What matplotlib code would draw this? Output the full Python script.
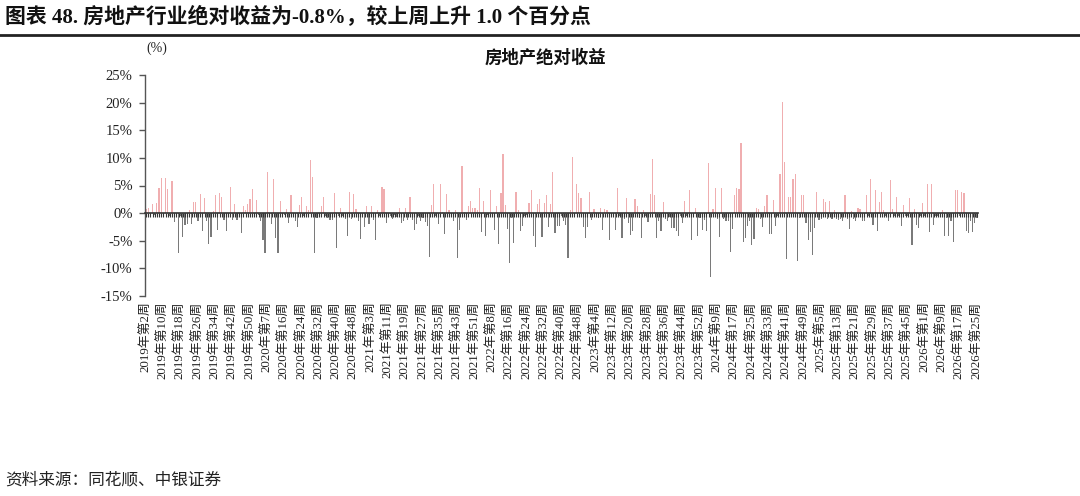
import numpy as np
import matplotlib
matplotlib.use('Agg')
import matplotlib.pyplot as plt
from matplotlib.lines import Line2D

# weekly absolute return of the real-estate sector (%), 2019 W2 .. 2026 W25
values = [
    0.8, 0.9, -0.3, 1.7, -0.4, 1.9, 4.5, 6.4, -0.5, 6.4,        # 0
    4.4, -0.5, 5.8, -1.6, -0.6, -7.2, -0.5, -4.4, -2.2, -2.0,   # 10
    0.5, -1.9, 2.0, 2.1, -1.4, 3.4, -3.3, 2.8, -1.5, -5.5,      # 20
    -4.4, 0.3, 3.2, -3.0, 3.6, 3.0, -1.3, -3.3, -0.5, 4.7,      # 30
    -1.2, 1.6, -1.3, -0.4, -3.6, 1.2, 0.6, 1.6, 2.5, 4.4,       # 40
    -0.5, 2.4, -0.4, -1.5, -4.8, -7.2, 7.5, -0.5, -2.0, 6.2,    # 50
    -4.5, -7.3, 2.2, -0.6, -0.4, 0.8, -1.8, 3.2, -0.5, -1.5,    # 60
    -2.6, 1.5, 3.0, -0.5, 1.3, 0.5, 9.7, 6.6, -7.2, -0.8,       # 70
    -0.4, 1.2, 2.9, -0.6, -0.8, -1.2, -1.2, 3.7, -6.3, -0.5,    # 80
    0.9, -0.6, -1.0, -4.1, 3.8, -1.0, 3.5, 0.8, -1.5, -4.7,     # 90
    -0.5, -2.5, 1.2, -2.0, 1.2, -1.2, -4.8, 0.5, -0.5, 4.7,     # 100
    4.4, -1.8, -0.3, -0.5, -1.0, -0.4, -0.7, 1.0, -1.8, -1.5,   # 110
    0.9, -1.2, 2.9, -1.2, -3.0, -2.0, -0.6, -1.5, -0.8, -1.6,   # 120
    -2.4, -8.0, 1.5, 5.3, -0.5, -2.0, 5.2, 0.2, -3.8, 3.4,      # 130
    0.5, -0.5, -1.5, 0.6, -8.2, -3.0, 8.5, 0.2, -1.2, 1.2,      # 140
    2.2, 1.0, 0.9, 0.6, 4.5, -3.5, 2.2, -4.1, -0.4, 4.1,        # 150
    -0.3, -3.0, 1.2, -5.5, 3.7, 10.7, 1.5, -2.9, -9.1, -0.8,    # 160
    -5.4, 3.8, 0.5, -3.3, -2.4, -0.5, -0.4, 1.8, 4.2, -4.2,     # 170
    -6.1, 1.7, 2.5, -4.4, 1.8, 3.2, -2.5, 1.6, 7.5, -3.6,       # 180
    -2.4, -2.4, -0.5, -1.5, -2.1, -8.2, 0.5, 10.2, -0.5, 5.2,   # 190
    3.6, 2.7, -2.6, -4.5, -2.5, 3.8, -1.2, 0.8, -0.5, -0.8,     # 200
    0.9, -3.0, 0.7, 0.6, -4.8, -0.3, -0.5, -3.0, 4.5, -0.5,     # 210
    -4.5, -1.0, 2.7, -1.8, -3.9, -3.3, 2.5, 1.2, -0.8, -4.5,    # 220
    0.5, -0.5, -1.6, 3.4, 9.8, 3.2, -4.5, -1.5, -3.3, 2.1,      # 230
    -1.0, -1.5, -0.7, -2.7, -2.7, -3.3, -4.2, -0.5, -1.8, 2.2,  # 240
    -0.5, 4.1, -4.8, -0.5, 1.0, -4.2, -0.8, -3.0, -1.2, -3.3,   # 250
    9.0, -11.5, 0.8, 4.5, -1.0, -4.4, 4.5, -1.0, -1.5, -1.5,    # 260
    -7.1, -2.9, 3.2, 4.5, 4.4, 12.7, -5.2, -4.5, -2.3, -1.5,    # 270
    -5.8, -4.7, 1.0, 0.8, -1.0, -2.6, 1.2, 3.3, -3.8, -3.8,     # 280
    2.4, -2.4, -0.5, 7.0, 20.2, 9.3, -8.3, 3.0, 3.0, 6.1,       # 290
    7.0, -8.7, -0.8, 3.2, 3.3, -1.8, -4.8, -3.5, -7.6, -2.7,    # 300
    3.8, -1.2, -1.0, 2.6, 2.1, -1.0, 2.2, -1.0, 0.5, -1.0,      # 310
    -1.3, -1.0, -1.5, 3.3, -1.0, -2.8, 0.3, -1.0, -1.5, 0.9,    # 320
    0.8, -1.5, -1.5, 3.2, -0.5, 6.2, -2.1, 4.1, -3.3, 2.1,      # 330
    3.8, 0.5, -0.5, -1.4, 6.0, 0.7, -0.5, 3.0, -0.5, -2.4,      # 340
    1.5, -0.5, -0.5, 2.7, -5.8, 0.8, -2.1, -2.7, -0.5, 1.9,     # 350
    -0.5, 5.2, -3.5, 5.3, -2.1, -0.5, -0.5, -0.3, 0.6, -4.2,    # 360
    -0.8, -4.2, -1.5, -5.3, 4.1, 4.1, -0.5, 3.8, 3.6, -3.3,     # 370
    -3.6, -1.5, -3.5, -1.8, -0.8,                               # 380
]

# labels shown on every 8th week
tick_labels = [
    "2019年第2周", "2019年第10周", "2019年第18周", "2019年第26周", "2019年第34周", "2019年第42周", "2019年第50周",
    "2020年第7周", "2020年第16周", "2020年第24周", "2020年第32周", "2020年第40周", "2020年第48周",
    "2021年第3周", "2021年第11周", "2021年第19周", "2021年第27周", "2021年第35周", "2021年第43周", "2021年第51周",
    "2022年第8周", "2022年第16周", "2022年第24周", "2022年第32周", "2022年第40周", "2022年第48周",
    "2023年第4周", "2023年第12周", "2023年第20周", "2023年第28周", "2023年第36周", "2023年第44周", "2023年第52周",
    "2024年第9周", "2024年第17周", "2024年第25周", "2024年第33周", "2024年第41周", "2024年第49周",
    "2025年第5周", "2025年第13周", "2025年第21周", "2025年第29周", "2025年第37周", "2025年第45周",
    "2026年第1周", "2026年第9周", "2026年第17周", "2026年第25周",
]
y_ticks = [-15, -10, -5, 0, 5, 10, 15, 20, 25]

title_text = "图表 48. 房地产行业绝对收益为-0.8%，较上周上升 1.0 个百分点"
chart_title = "房地产绝对收益"
unit_text = "(%)"
source_text = "资料来源：同花顺、中银证券"

plt.rcParams['font.family'] = ['Liberation Serif', 'Noto Sans CJK SC', 'DejaVu Sans']

W, H = 1080, 496
fig = plt.figure(figsize=(W / 100, H / 100), dpi=100)
ax = fig.add_axes([145 / W, 1 - 296 / H, (978 - 145) / W, (296 - 75) / H])

x = np.arange(len(values))
vals = np.array(values)
colors = np.where(vals >= 0, '#F0AEB0', '#7A7A7A')
ax.bar(x, vals, width=0.55, color=colors, linewidth=0, zorder=2)

ax.set_xlim(-0.5, len(values) - 0.5)
ax.set_ylim(y_ticks[0], y_ticks[-1])
ax.set_yticks(y_ticks)
ax.set_yticklabels([f"{v}%" for v in y_ticks], fontsize=10.5, color='#222222')
ax.set_xticks(x[::8])
ax.set_xticklabels(tick_labels, rotation=90, fontsize=9.3, color='#222222')
ax.tick_params(axis='x', length=0, pad=4)
ax.tick_params(axis='y', length=4, direction='out', color='#555555', width=1, pad=5)
for s in ['top', 'right', 'bottom']:
    ax.spines[s].set_visible(False)
ax.spines['left'].set_color('#555555')
ax.spines['left'].set_linewidth(1)

zero_frac = (0 - y_ticks[0]) / (y_ticks[-1] - y_ticks[0])
sec = ax.secondary_xaxis(zero_frac)
sec.set_xticks(x)
sec.tick_params(axis='x', length=3, direction='out', color='#333333', width=0.8,
                labelbottom=False, labeltop=False)
for sp in sec.spines.values():
    sp.set_color('#333333')
    sp.set_linewidth(1.2)
sec.set_zorder(3)

fig.text(5 / W, 1 - 17 / H, title_text, fontsize=15, fontweight='bold', ha='left', va='center', color='#111111')
fig.add_artist(Line2D([0, 1], [1 - 35 / H, 1 - 35 / H], color='#222222', lw=2, transform=fig.transFigure))
fig.text(157 / W, 1 - 48 / H, unit_text, fontsize=10, ha='center', va='center', color='#222222')
fig.text(545 / W, 1 - 58 / H, chart_title, fontsize=12.5, fontweight='bold', ha='center', va='center', color='#111111')
fig.text(5 / W, 1 - 480 / H, source_text, fontsize=12, ha='left', va='center', style='italic', color='#222222')

fig.savefig('out.png', dpi=100)
